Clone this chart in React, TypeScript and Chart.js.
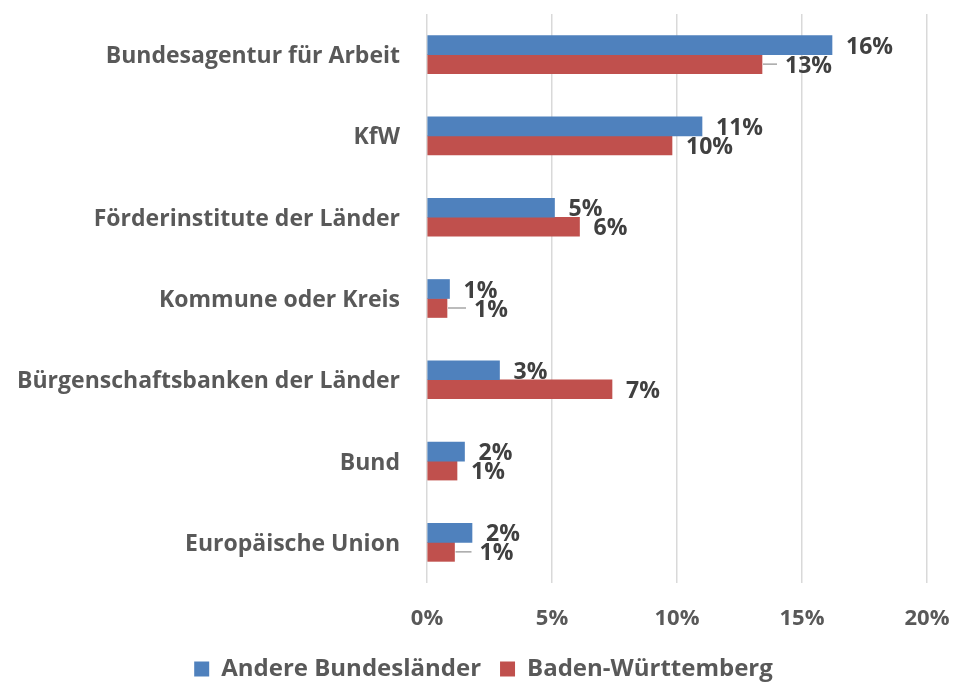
import React, { useEffect, useRef } from "react";
import { Chart, registerables } from "chart.js";

Chart.register(...registerables);

const categories = [
  "Bundesagentur für Arbeit",
  "KfW",
  "Förderinstitute der Länder",
  "Kommune oder Kreis",
  "Bürgenschaftsbanken der Länder",
  "Bund",
  "Europäische Union",
];
const seriesNames = ["Andere Bundesländer", "Baden-Württemberg"];
const andereBundeslaender = [16.2, 11.0, 5.1, 0.9, 2.9, 1.5, 1.8];
const badenWuerttemberg = [13.4, 9.8, 6.1, 0.8, 7.4, 1.2, 1.1];
const xTicks = [0, 5, 10, 15, 20];
// extra horizontal shift of manually moved data labels (drawn with a leader line)
const labelNudge = [
  [0, 0, 0, 0, 0, 0, 0],
  [9, 0, 0, 13, 0, 0, 11],
];

const FONT = '"Open Sans", "DejaVu Sans", sans-serif';

const barLabels = {
  id: "barLabels",
  afterDatasetsDraw(chart: any) {
    const ctx = chart.ctx;
    ctx.save();
    ctx.font = `bold 23px ${FONT}`;
    ctx.textBaseline = "middle";
    ctx.textAlign = "left";
    chart.data.datasets.forEach((ds: any, di: number) => {
      const meta = chart.getDatasetMeta(di);
      meta.data.forEach((bar: any, i: number) => {
        const v = ds.data[i] as number;
        const nudge = labelNudge[di][i];
        const x = bar.x + 14 + nudge;
        if (nudge > 0) {
          ctx.strokeStyle = "#a6a6a6";
          ctx.lineWidth = 1.5;
          ctx.beginPath();
          ctx.moveTo(bar.x + 1, bar.y);
          ctx.lineTo(x - 8, bar.y);
          ctx.stroke();
        }
        ctx.fillStyle = "#404040";
        ctx.fillText(Math.round(v) + "%", x, bar.y + 2);
      });
    });
    ctx.restore();
  },
};

// shift the bottom legend a little to the right, as in the original layout
const legendShift = {
  id: "legendShift",
  afterLayout(chart: any) {
    const l = chart.legend;
    if (l) {
      l.left += 10;
      l.right += 10;
    }
  },
};

export default function App() {
  const ref = useRef<HTMLCanvasElement>(null);
  useEffect(() => {
    if (!ref.current) return;
    const chart = new Chart(ref.current, {
      type: "bar",
      data: {
        labels: categories,
        datasets: [
          {
            label: seriesNames[0],
            data: andereBundeslaender,
            backgroundColor: "#4F81BD",
            barThickness: 19,
          },
          {
            label: seriesNames[1],
            data: badenWuerttemberg,
            backgroundColor: "#C0504D",
            barThickness: 19,
          },
        ],
      },
      options: {
        indexAxis: "y",
        responsive: false,
        animation: false,
        layout: { padding: { top: 14, left: 0, right: 7, bottom: -7 } },
        scales: {
          x: {
            min: 0,
            max: 20,
            afterBuildTicks(scale: any) {
              scale.ticks = xTicks.map((v) => ({ value: v }));
            },
            afterFit(scale: any) {
              scale.height = 55;
              scale.paddingRight = 27;
            },
            grid: { color: "#d9d9d9", lineWidth: 1.5, drawTicks: false },
            border: { display: false },
            ticks: {
              padding: 23,
              color: "#595959",
              font: { family: FONT, size: 22, weight: "bold" },
              callback: (v: any) => v + "%",
            },
          },
          y: {
            afterFit(scale: any) {
              scale.width = 427;
              scale.paddingTop = 0;
              scale.paddingBottom = 0;
            },
            grid: { display: false, drawTicks: false },
            border: { display: false },
            ticks: {
              padding: 27,
              labelOffset: 2,
              color: "#595959",
              font: { family: FONT, size: 23, weight: "bold" },
            },
          },
        },
        plugins: {
          legend: {
            position: "bottom",
            labels: {
              boxWidth: 15,
              boxHeight: 15,
              padding: 19,
              color: "#595959",
              font: { family: FONT, size: 24, weight: "bold" },
            },
          },
          tooltip: { enabled: false },
        },
      },
      plugins: [barLabels, legendShift],
    } as any);
    return () => chart.destroy();
  }, []);
  return (
    <div style={{ position: "fixed", left: 0, top: 0, width: 954, height: 684, background: "#fff" }}>
      <canvas ref={ref} width={954} height={684} />
    </div>
  );
}
